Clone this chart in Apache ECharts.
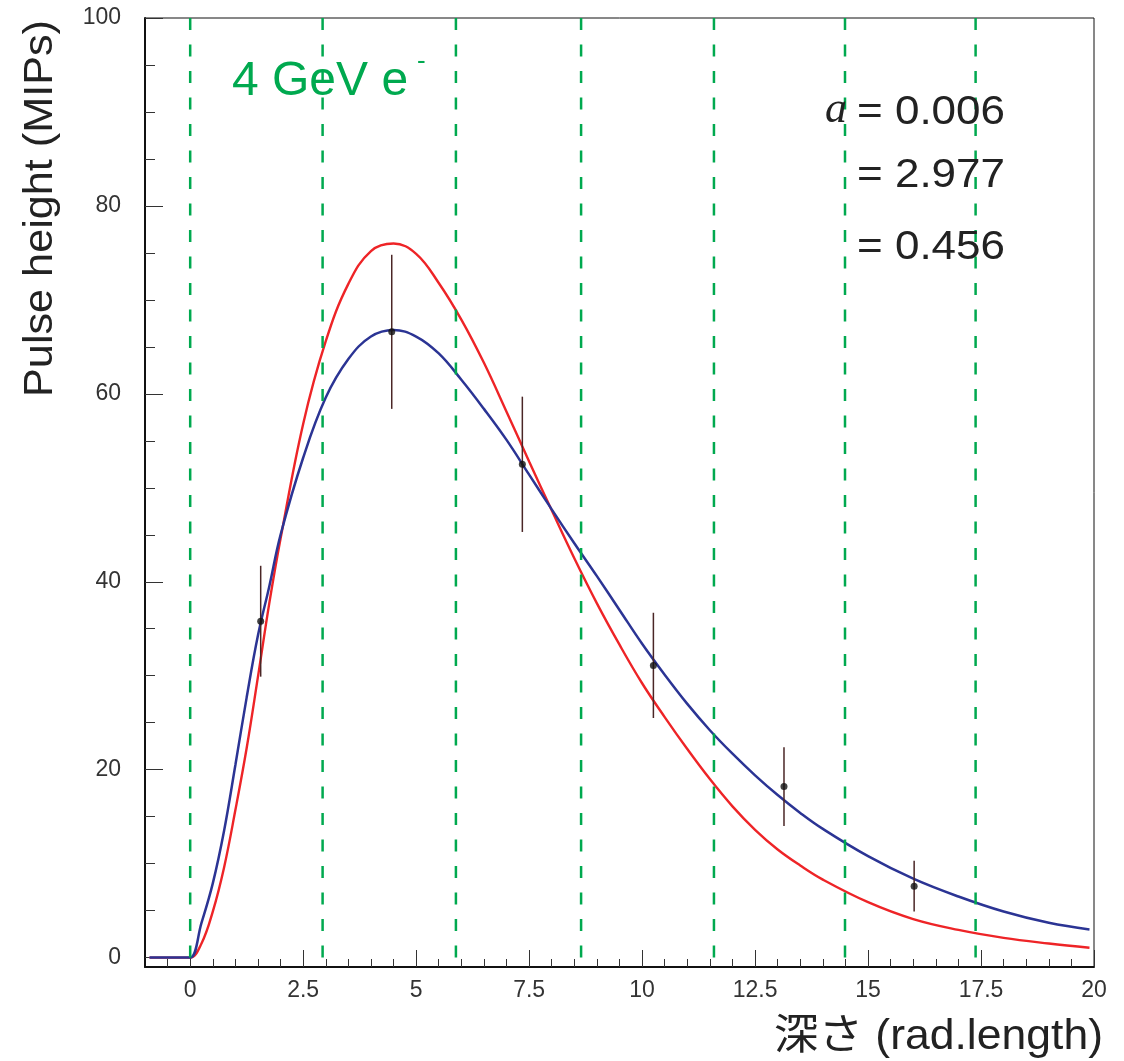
<!DOCTYPE html>
<html><head><meta charset="utf-8">
<script src="https://cdn.jsdelivr.net/npm/echarts@6/dist/echarts.min.js"></script>
<style>html,body{margin:0;padding:0;background:#fff}#c{width:1124px;height:1061px}</style>
</head><body><div id="c"></div>
<script>
// ---- data ----
const curveX = [-0.9, -0.2, 0, 0.25, 0.5, 0.75, 1, 1.25, 1.5, 1.75, 2, 2.5, 3, 3.5, 4, 4.5, 5, 5.5, 6, 6.5, 7, 7.5, 8, 8.5, 9, 9.5, 10, 10.5, 11, 11.5, 12, 12.5, 13, 13.5, 14, 15, 16, 17, 18, 19, 19.9];
const redY   = [0, 0, 0, 1.5, 4.9, 9.6, 15.7, 22.3, 29.9, 37.7, 44.6, 56.8, 65.6, 71.7, 75.2, 76.0, 74.9, 71.8, 67.9, 63.3, 58.1, 52.8, 47.6, 42.5, 37.7, 33.3, 29.2, 25.6, 22.2, 19.0, 16.1, 13.6, 11.5, 9.8, 8.3, 5.9, 4.1, 2.95, 2.1, 1.5, 1.05];
const blueY  = [0, 0, 0, 3.7, 7.9, 13.5, 20.5, 27.7, 34.3, 39.5, 45.0, 53.2, 59.6, 63.7, 66.1, 66.8, 66.1, 64.3, 61.5, 58.4, 55.1, 51.4, 47.7, 44.1, 40.6, 37.0, 33.4, 30.1, 27.0, 24.2, 21.7, 19.4, 17.3, 15.4, 13.7, 10.8, 8.4, 6.5, 4.9, 3.7, 3.0];
const pointX   = [1.56, 4.46, 7.35, 10.25, 13.14, 16.02];
const pointY   = [35.8, 66.6, 52.5, 31.1, 18.2, 7.6];
const pointErr = [5.9, 8.2, 7.2, 5.6, 4.2, 2.7];
const dashX = [0, 2.93, 5.88, 8.65, 11.59, 14.49, 17.38];
const xMajorTicks = [0, 2.5, 5, 7.5, 10, 12.5, 15, 17.5, 20];
const xMinorTicks = [-0.5, 0, 0.5, 1, 1.5, 2, 2.5, 3, 3.5, 4, 4.5, 5, 5.5, 6, 6.5, 7, 7.5, 8, 8.5, 9, 9.5, 10, 10.5, 11, 11.5, 12, 12.5, 13, 13.5, 14, 14.5, 15, 15.5, 16, 16.5, 17, 17.5, 18, 18.5, 19, 19.5, 20];
const yMajorTicks = [0, 20, 40, 60, 80, 100];
const yMinorTicks = [0, 5, 10, 15, 20, 25, 30, 35, 40, 45, 50, 55, 60, 65, 70, 75, 80, 85, 90, 95, 100];
const labelEnergy = '4 GeV e';
const paramLines = ['= 0.006', '= 2.977', '= 0.456'];
const xTitle = '深さ (rad.length)';
const yTitle = 'Pulse height (MIPs)';

const X_MIN = -1, X_MAX = 20, Y_MIN = -1, Y_MAX = 100;
const sans = '"Liberation Sans", Arial, Helvetica, sans-serif';
const tickFont = {fontFamily: sans, fontSize: 23, color: '#333'};
const green = '#00a94f';

const chart = echarts.init(document.getElementById('c'), null, {renderer: 'canvas'});
const option = {
  animation: false,
  backgroundColor: '#fff',
  grid: {left: 145, right: 30, top: 18, bottom: 94, show: true, borderColor: '#111', borderWidth: 1},
  xAxis: [
    {type: 'value', min: X_MIN, max: X_MAX, position: 'bottom',
     axisLine: {show: true, onZero: false, lineStyle: {color: '#111', width: 2}},
     axisTick: {show: true, inside: true, length: 17, customValues: xMajorTicks, lineStyle: {color: '#333', width: 1}},
     axisLabel: Object.assign({show: true, margin: 12, customValues: xMajorTicks}, tickFont),
     splitLine: {show: false}},
    {type: 'value', min: X_MIN, max: X_MAX, position: 'bottom',
     axisLine: {show: false, onZero: false},
     axisTick: {show: true, inside: true, length: 8, customValues: xMinorTicks, lineStyle: {color: '#333', width: 1}},
     axisLabel: {show: false}, splitLine: {show: false}}
  ],
  yAxis: [
    {type: 'value', min: Y_MIN, max: Y_MAX, position: 'left',
     axisLine: {show: true, onZero: false, lineStyle: {color: '#111', width: 2}},
     axisTick: {show: true, inside: true, length: 18, customValues: yMajorTicks, lineStyle: {color: '#333', width: 1}},
     axisLabel: Object.assign({show: true, margin: 24, customValues: yMajorTicks}, tickFont),
     splitLine: {show: false}},
    {type: 'value', min: Y_MIN, max: Y_MAX, position: 'left',
     axisLine: {show: false, onZero: false},
     axisTick: {show: true, inside: true, length: 10, customValues: yMinorTicks, lineStyle: {color: '#333', width: 1}},
     axisLabel: {show: false}, splitLine: {show: false}}
  ],
  series: [
    {type: 'line', name: 'red', xAxisIndex: 0, yAxisIndex: 0, smooth: 0.4, showSymbol: false, symbol: 'none',
     lineStyle: {color: '#ee2427', width: 2.4}, z: 3,
     data: curveX.map((x, i) => [x, redY[i]])},
    {type: 'line', name: 'blue', xAxisIndex: 0, yAxisIndex: 0, smooth: 0.4, showSymbol: false, symbol: 'none',
     lineStyle: {color: '#2b3494', width: 2.5}, z: 4,
     data: curveX.map((x, i) => [x, blueY[i]])},
    {type: 'custom', name: 'errors', xAxisIndex: 0, yAxisIndex: 0, z: 5,
     renderItem: function (params, api) {
       const x = api.value(0), y = api.value(1), e = api.value(2);
       const p1 = api.coord([x, y + e]), p2 = api.coord([x, y - e]);
       return {type: 'line', shape: {x1: p1[0], y1: p1[1], x2: p2[0], y2: p2[1]},
               style: {stroke: '#4a2626', lineWidth: 1.5}};
     },
     data: pointX.map((x, i) => [x, pointY[i], pointErr[i]])},
    {type: 'scatter', name: 'data', xAxisIndex: 0, yAxisIndex: 0, z: 6, symbol: 'circle', symbolSize: 7,
     itemStyle: {color: '#111'},
     data: pointX.map((x, i) => [x, pointY[i]])},
    {type: 'custom', name: 'layers', xAxisIndex: 0, yAxisIndex: 0, z: 8,
     renderItem: function (params, api) {
       const x = api.value(0);
       const p1 = api.coord([x, Y_MAX]), p2 = api.coord([x, Y_MIN]);
       return {type: 'line', shape: {x1: p1[0], y1: p1[1], x2: p2[0], y2: p2[1]},
               style: {stroke: green, lineWidth: 2.5, lineDash: [12, 14.5]}};
     },
     data: dashX.map(x => [x, 0])}
  ],
  graphic: [
    {type: 'text', x: 232, y: 82, z: 20,
     style: {text: labelEnergy, font: '48px ' + sans, fill: green, textAlign: 'left', textVerticalAlign: 'middle'}},
    {type: 'text', x: 417, y: 62, z: 20,
     style: {text: '-', font: '26px ' + sans, fill: green, textAlign: 'left', textVerticalAlign: 'middle'}},
    {type: 'text', x: 847, y: 110, z: 20,
     style: {text: 'a', font: 'italic 44px "Liberation Serif", "DejaVu Serif", serif', fill: '#222', textAlign: 'right', textVerticalAlign: 'middle'}},
    {type: 'text', x: 857, y: 113, z: 20, scaleX: 1.1,
     style: {text: paramLines[0], font: '40px ' + sans, fill: '#222', textAlign: 'left', textVerticalAlign: 'middle'}},
    {type: 'text', x: 857, y: 176, z: 20, scaleX: 1.1,
     style: {text: paramLines[1], font: '40px ' + sans, fill: '#222', textAlign: 'left', textVerticalAlign: 'middle'}},
    {type: 'text', x: 857, y: 248, z: 20, scaleX: 1.1,
     style: {text: paramLines[2], font: '40px ' + sans, fill: '#222', textAlign: 'left', textVerticalAlign: 'middle'}},
    {type: 'text', x: 1103, y: 1037, z: 20, scaleX: 1.06,
     style: {text: xTitle, font: '42px ' + sans + ', "Noto Sans CJK JP"', fill: '#222', textAlign: 'right', textVerticalAlign: 'middle'}},
    {type: 'text', x: 41, y: 20, rotation: Math.PI / 2, z: 20, scaleX: 1.08,
     style: {text: yTitle, font: '40px ' + sans, fill: '#222', textAlign: 'right', textVerticalAlign: 'middle'}}
  ]
};
chart.setOption(option);
</script>
</body></html>
